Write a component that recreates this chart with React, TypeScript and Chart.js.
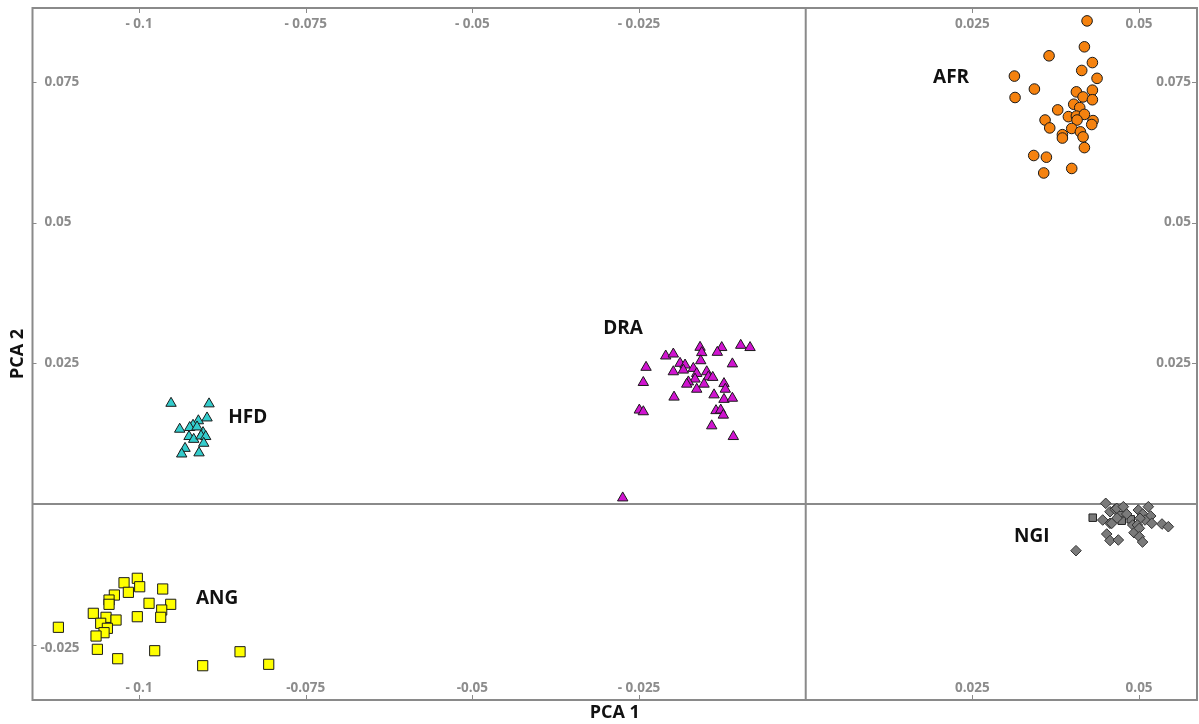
import React, { useEffect, useRef } from 'react';
import { Chart, registerables } from 'chart.js';

Chart.register(...registerables);

// ---- data (PCA 1 = x, PCA 2 = y) ----
const AFR_X = [0.0422, 0.0418, 0.0365, 0.043, 0.0414, 0.0313, 0.0437, 0.0343, 0.0406, 0.043, 0.0314, 0.0416, 0.043, 0.0402, 0.0378, 0.0411, 0.0394, 0.0406, 0.0418, 0.0359, 0.0431, 0.0429, 0.0407, 0.0366, 0.0399, 0.0412, 0.0385, 0.0385, 0.0416, 0.0418, 0.0342, 0.0361, 0.0399, 0.0357];
const AFR_Y = [0.0858, 0.0812, 0.0796, 0.0784, 0.077, 0.076, 0.0756, 0.0737, 0.0732, 0.0735, 0.0722, 0.0723, 0.0718, 0.071, 0.07, 0.0704, 0.0688, 0.0689, 0.0692, 0.0682, 0.0681, 0.0674, 0.0682, 0.0668, 0.0667, 0.0661, 0.0656, 0.065, 0.0652, 0.0633, 0.0619, 0.0616, 0.0596, 0.0588];

const DRA_X = [-0.01585, -0.0126, -0.00975, -0.00835, -0.01326, -0.0156, -0.021, -0.01986, -0.01575, -0.02395, -0.01885, -0.0181, -0.011, -0.01686, -0.01986, -0.01836, -0.01485, -0.01635, -0.0146, -0.01395, -0.0166, -0.0176, -0.01785, -0.01525, -0.02436, -0.01226, -0.01206, -0.01635, -0.01375, -0.01975, -0.01226, -0.011, -0.02496, -0.02436, -0.01346, -0.01275, -0.01236, -0.0141, -0.01086, -0.02745];
const DRA_Y = [0.02784, 0.0278, 0.0282, 0.0278, 0.02695, 0.0269, 0.0263, 0.02665, 0.02546, 0.02429, 0.025, 0.0247, 0.0249, 0.0241, 0.0235, 0.0238, 0.0235, 0.0232, 0.0226, 0.0225, 0.0222, 0.0217, 0.0213, 0.0213, 0.0216, 0.0214, 0.0204, 0.0204, 0.0194, 0.019, 0.0186, 0.0188, 0.0167, 0.0164, 0.0166, 0.0167, 0.0158, 0.0139, 0.012, 0.0011];

const HFD_X = [-0.0952, -0.0895, -0.0898, -0.0911, -0.0919, -0.0939, -0.0924, -0.0925, -0.0918, -0.0904, -0.0907, -0.09, -0.0903, -0.0931, -0.0936, -0.091, -0.0913];
const HFD_Y = [0.0179, 0.0178, 0.0153, 0.0148, 0.014, 0.0133, 0.0136, 0.012, 0.0115, 0.0127, 0.0121, 0.012, 0.0108, 0.0099, 0.0089, 0.0091, 0.0137];

const ANG_X = [-0.10026, -0.10225, -0.0999, -0.1016, -0.09645, -0.1037, -0.1045, -0.1045, -0.0985, -0.09525, -0.0966, -0.10686, -0.10495, -0.10345, -0.10026, -0.09675, -0.10575, -0.10475, -0.10525, -0.10645, -0.1121, -0.10625, -0.1032, -0.09765, -0.09045, -0.08485, -0.08055];
const ANG_Y = [-0.01317, -0.01396, -0.01467, -0.01566, -0.01507, -0.01614, -0.01703, -0.01779, -0.01761, -0.01779, -0.0188, -0.01939, -0.0201, -0.02058, -0.01999, -0.0201, -0.02116, -0.02205, -0.02283, -0.02342, -0.02187, -0.02578, -0.02745, -0.02603, -0.02869, -0.02621, -0.02844];

const NGI_DIAMOND_X = [0.045, 0.04455, 0.04564, 0.0464, 0.04564, 0.04665, 0.04764, 0.04815, 0.04905, 0.04989, 0.05055, 0.05139, 0.05175, 0.0509, 0.05014, 0.04974, 0.0519, 0.04924, 0.05004, 0.05344, 0.05439, 0.04515, 0.04564, 0.04689, 0.05004, 0.05052, 0.04054, 0.0459, 0.0467];
const NGI_DIAMOND_Y = [0.00014, -0.00282, -0.00135, -0.00092, -0.00341, -0.00075, -0.00046, -0.00176, -0.00371, -0.00105, -0.00176, -0.00046, -0.00211, -0.00282, -0.00252, -0.00371, -0.00341, -0.00508, -0.0043, -0.00353, -0.00401, -0.00531, -0.00646, -0.00637, -0.00579, -0.00673, -0.00827, -0.00341, -0.00247];
const NGI_SQUARE_X = [0.04305, 0.0473, 0.0474, 0.04875];
const NGI_SQUARE_Y = [-0.00241, -0.00194, -0.00295, -0.0027];

// ---- axes / labels ----
const X_MIN = -0.11598;
const X_MAX = 0.05869;
const Y_MIN = -0.03478;
const Y_MAX = 0.08809;

const X_TICKS = [-0.1, -0.075, -0.05, -0.025, 0.025, 0.05];
const X_TOP_LABELS = ['- 0.1', '- 0.075', '- 0.05', '- 0.025', '0.025', '0.05'];
const X_BOTTOM_LABELS = ['- 0.1', '-0.075', '-0.05', '- 0.025', '0.025', '0.05'];
const Y_LEFT_TICKS = [0.075, 0.05, 0.025, -0.025];
const Y_LEFT_LABELS = ['0.075', '0.05', '0.025', '-0.025'];
const Y_RIGHT_TICKS = [0.075, 0.05, 0.025];
const Y_RIGHT_LABELS = ['0.075', '0.05', '0.025'];

const GROUP_NAMES = ['AFR', 'DRA', 'HFD', 'ANG', 'NGI'];
const GROUP_LABEL_X = [0.0218, -0.0274, -0.0837, -0.0883, 0.0339];
const GROUP_LABEL_Y = [0.0757, 0.0311, 0.0153, -0.01685, -0.00584];

const X_TITLE = 'PCA 1';
const Y_TITLE = 'PCA 2';

const pts = (xs: number[], ys: number[]) => xs.map((x, i) => ({ x, y: ys[i] }));

const LINE_COLOR = '#8a8a8a';
const TICK_TEXT = '#8c8c8c';
const FONT = '"Open Sans", "DejaVu Sans", sans-serif';

const framePlugin = {
  id: 'pcaFrame',
  beforeDatasetsDraw(chart: any) {
    const { ctx, chartArea: a, scales } = chart;
    const xs = scales.x;
    const ys = scales.y;
    const x0 = xs.getPixelForValue(0);
    const y0 = ys.getPixelForValue(0);
    ctx.save();
    ctx.strokeStyle = LINE_COLOR;
    ctx.lineWidth = 2;
    ctx.strokeRect(a.left, a.top, a.right - a.left, a.bottom - a.top);
    ctx.beginPath();
    ctx.moveTo(x0, a.top);
    ctx.lineTo(x0, a.bottom);
    ctx.moveTo(a.left, y0);
    ctx.lineTo(a.right, y0);
    ctx.stroke();

    // tick marks
    ctx.lineWidth = 1;
    ctx.beginPath();
    X_TICKS.forEach((v) => {
      const px = Math.round(xs.getPixelForValue(v)) + 0.5;
      ctx.moveTo(px, a.top);
      ctx.lineTo(px, a.top + 5);
      ctx.moveTo(px, a.bottom);
      ctx.lineTo(px, a.bottom - 5);
    });
    Y_LEFT_TICKS.forEach((v) => {
      const py = Math.round(ys.getPixelForValue(v)) + 0.5;
      ctx.moveTo(a.left, py);
      ctx.lineTo(a.left + 4, py);
    });
    Y_RIGHT_TICKS.forEach((v) => {
      const py = Math.round(ys.getPixelForValue(v)) + 0.5;
      ctx.moveTo(a.right, py);
      ctx.lineTo(a.right - 5, py);
    });
    ctx.stroke();

    // tick labels
    ctx.fillStyle = TICK_TEXT;
    ctx.font = `bold 13.5px ${FONT}`;
    ctx.textBaseline = 'middle';
    ctx.textAlign = 'center';
    X_TICKS.forEach((v, i) => {
      const px = xs.getPixelForValue(v);
      ctx.fillText(X_TOP_LABELS[i], px, a.top + 16);
      ctx.fillText(X_BOTTOM_LABELS[i], px, a.bottom - 12);
    });
    ctx.textAlign = 'left';
    Y_LEFT_TICKS.forEach((v, i) => {
      const py = ys.getPixelForValue(v);
      ctx.fillText(Y_LEFT_LABELS[i], a.left + (v < 0 ? 8 : 12), py + (v < 0 ? 3 : 0));
    });
    ctx.textAlign = 'right';
    Y_RIGHT_TICKS.forEach((v, i) => {
      const py = ys.getPixelForValue(v);
      ctx.fillText(Y_RIGHT_LABELS[i], a.right - 6, py);
    });

    // group labels
    ctx.fillStyle = '#111111';
    ctx.font = `bold 19px ${FONT}`;
    ctx.textAlign = 'center';
    GROUP_NAMES.forEach((n, i) => {
      ctx.fillText(n, xs.getPixelForValue(GROUP_LABEL_X[i]), ys.getPixelForValue(GROUP_LABEL_Y[i]));
    });

    // axis titles
    ctx.font = `bold 18px ${FONT}`;
    ctx.fillText(X_TITLE, (a.left + a.right) / 2, a.bottom + 13);
    ctx.translate(a.left - 15, (a.top + a.bottom) / 2);
    ctx.rotate(-Math.PI / 2);
    ctx.fillText(Y_TITLE, 0, 0);
    ctx.restore();
  },
};

export default function App() {
  const ref = useRef<HTMLCanvasElement | null>(null);
  useEffect(() => {
    if (!ref.current) return;
    const border = '#1a1a1a';
    const chart = new Chart(ref.current, {
      type: 'scatter',
      data: {
        datasets: [
          { label: 'ANG', data: pts(ANG_X, ANG_Y), pointStyle: 'rect', pointRadius: 7.2, backgroundColor: '#ffff00', borderColor: border, borderWidth: 1 },
          { label: 'HFD', data: pts(HFD_X, HFD_Y), pointStyle: 'triangle', pointRadius: 6, backgroundColor: '#33cccc', borderColor: border, borderWidth: 1 },
          { label: 'DRA', data: pts(DRA_X, DRA_Y), pointStyle: 'triangle', pointRadius: 6, backgroundColor: '#d014d0', borderColor: border, borderWidth: 1 },
          { label: 'AFR', data: pts(AFR_X, AFR_Y), pointStyle: 'circle', pointRadius: 5.3, backgroundColor: '#f5820f', borderColor: border, borderWidth: 1 },
          { label: 'NGI', data: pts(NGI_DIAMOND_X, NGI_DIAMOND_Y), pointStyle: 'rectRot', pointRadius: 5.3, backgroundColor: '#7a7a7a', borderColor: '#333333', borderWidth: 1 },
          { label: 'NGI2', data: pts(NGI_SQUARE_X, NGI_SQUARE_Y), pointStyle: 'rect', pointRadius: 5.3, backgroundColor: '#7a7a7a', borderColor: '#222222', borderWidth: 1 },
        ],
      },
      options: {
        animation: false,
        responsive: false,
        maintainAspectRatio: false,
        layout: { autoPadding: false, padding: { left: 32.5, right: 2, top: 8, bottom: 24 } },
        scales: {
          x: { type: 'linear', min: X_MIN, max: X_MAX, display: false },
          y: { type: 'linear', min: Y_MIN, max: Y_MAX, display: false },
        },
        plugins: { legend: { display: false }, tooltip: { enabled: false } },
      },
      plugins: [framePlugin],
    });
    return () => chart.destroy();
  }, []);
  return (
    <div style={{ position: 'fixed', left: 0, top: 0, width: 1199, height: 724, background: '#ffffff' }}>
      <canvas ref={ref} width={1199} height={724} style={{ display: 'block' }} />
    </div>
  );
}
